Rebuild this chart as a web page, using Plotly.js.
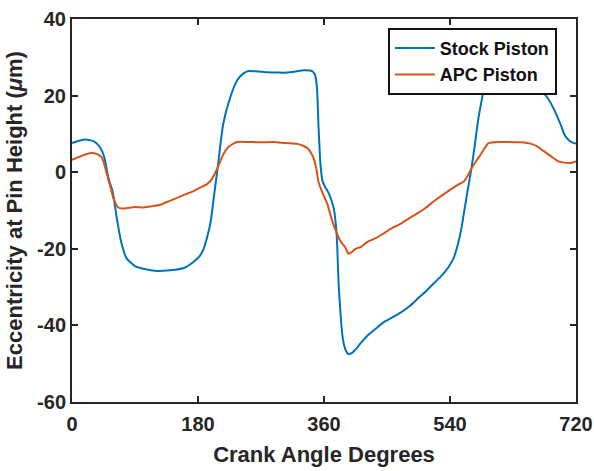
<!DOCTYPE html>
<html>
<head>
<meta charset="utf-8">
<script src="https://cdn.plot.ly/plotly-3.0.1.min.js"></script>
<style>html,body{margin:0;padding:0;background:#fff;}#chart{width:594px;height:471px;}</style>
</head>
<body>
<div id="chart"></div>
<script>
const stockX = [0,10,22,32,40,46,52,58,64,70,78,90,102,121,140,160,173,182,188,193,198,203,208,216,226,236,245,252,265,279,295,307,320,331,343,347,350,352,355,358,362,366,370,374,378,381,384,387,391,395,400,405,413,422,433,445,457,470,482,494,506,517,528,537,545,551,556,560,565,570,575,580,585,589,595,605,620,640,655,665,672,679,687,694,699,703,710,717,720];
const stockY = [7.6,8.2,8.5,8,6.5,4,-1.5,-5,-12,-18,-22.5,-24.5,-25.2,-25.8,-25.6,-25,-23.5,-22,-20,-17,-13,-6,1,12.6,19.5,24,25.8,26.4,26.3,26.1,26,26,26.3,26.6,26.4,25.5,22,12.6,2,-2.4,-4,-5.2,-7,-9.5,-16,-29.5,-38,-43.6,-46.5,-47.5,-47.2,-46.3,-44.5,-42.7,-41,-39.2,-38,-36.6,-35,-33,-31,-29,-27,-25,-22.5,-19,-15,-10.5,-5,0.3,6.5,13.4,18.5,22,24.5,25.8,26,25.8,25,23,21,19.5,17,14.2,12,10,8.3,7.6,7.5];
const apcX = [0,10,20,30,38,43,50,55,59,63,66,72,78,90,102,114,126,138,150,162,173,183,193,199,205,212,216,222,229,236,250,270,288,305,322,330,336,341,345,349,352,357,365,372,378,384,390,395,400,405,413,422,433,445,457,470,482,494,506,517,529,541,551,560,565,570,577,584,590,595,610,623,640,656,665,674,684,694,703,713,720];
const apcY = [3.2,4,4.7,5,4.5,3.7,-0.6,-4,-6.7,-8.4,-9.2,-9.5,-9.4,-9.1,-9.2,-8.9,-8.5,-7.6,-6.7,-5.8,-5,-4,-3.1,-2,0,2.9,4.6,6.3,7.3,7.9,7.9,7.8,7.9,7.6,7.4,6.9,6.3,5.2,3.7,1,-2.4,-5,-8.4,-12.9,-15.8,-18.2,-19.5,-21.3,-20.8,-20,-19.5,-18.2,-17.3,-16,-14.6,-13.4,-12,-10.7,-9.2,-7.6,-6,-4.5,-3.3,-2.4,-1,0.8,2.8,4.7,6.4,7.6,7.9,7.9,7.8,7.4,6.7,5.5,4.2,2.9,2.5,2.4,2.8];
const seriesNames = ['Stock Piston', 'APC Piston'];
const xTicks = [0, 180, 360, 540, 720];
const yTicks = [-60, -40, -20, 0, 20, 40];

const ink = '#262626';
const fam = 'Liberation Sans, Arial, sans-serif';

const traces = [
  {x: stockX, y: stockY, name: seriesNames[0], mode: 'lines', line: {color: '#0072BD', width: 2, shape: 'spline', smoothing: 0.5}},
  {x: apcX, y: apcY, name: seriesNames[1], mode: 'lines', line: {color: '#D95319', width: 2, shape: 'spline', smoothing: 0.5}}
];

const axisCommon = {
  showgrid: false, zeroline: false, showline: true, linecolor: ink, linewidth: 2,
  mirror: 'ticks', ticks: 'inside', ticklen: 6, tickwidth: 2, tickcolor: ink,
  tickfont: {family: fam, size: 20, color: ink, weight: 'bold'}
};

const layout = {
  width: 594, height: 471,
  margin: {l: 72, r: 18, t: 19, b: 69},
  paper_bgcolor: '#fff', plot_bgcolor: '#fff',
  showlegend: true,
  legend: {
    x: 0.962, y: 0.977, xanchor: 'right', yanchor: 'top',
    bgcolor: '#fff', bordercolor: '#111', borderwidth: 2,
    font: {family: fam, size: 18, color: '#111', weight: 'bold'},
    tracegroupgap: 0, itemwidth: 40
  },
  xaxis: Object.assign({}, axisCommon, {
    range: [0, 720], tickvals: xTicks, ticktext: xTicks.map(String),
    ticklabelstandoff: 3,
    title: {text: '<b>Crank Angle Degrees</b>', font: {family: fam, size: 22, color: ink}, standoff: 13}
  }),
  yaxis: Object.assign({}, axisCommon, {
    range: [-60, 40], tickvals: yTicks, ticktext: yTicks.map(String),
    title: {text: '<b>Eccentricity at Pin Height (<i>μ</i>m)</b>', font: {family: fam, size: 22, color: ink}, standoff: 8}
  })
};

Plotly.newPlot('chart', traces, layout, {staticPlot: true, displayModeBar: false});
</script>
</body>
</html>
